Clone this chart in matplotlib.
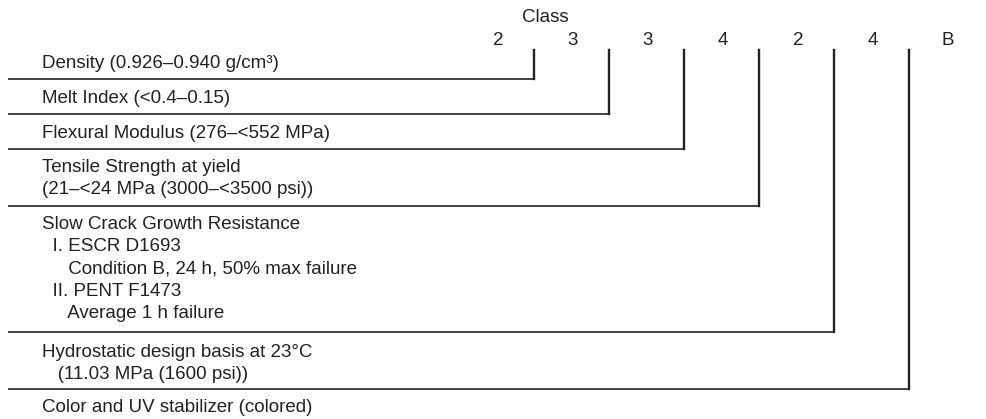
import matplotlib.pyplot as plt

plt.rcParams['font.family'] = ['Liberation Sans', 'DejaVu Sans']

# cell classification code, one character per property
codes = ['2', '3', '3', '4', '2', '4', 'B']

# property descriptions, one list of text lines per property
props = [
    ['Density (0.926–0.940 g/cm³)'],
    ['Melt Index (<0.4–0.15)'],
    ['Flexural Modulus (276–<552 MPa)'],
    ['Tensile Strength at yield', '(21–<24 MPa (3000–<3500 psi))'],
    ['Slow Crack Growth Resistance', '  I. ESCR D1693',
     '     Condition B, 24 h, 50% max failure', '  II. PENT F1473',
     '     Average 1 h failure'],
    ['Hydrostatic design basis at 23°C', '   (11.03 MPa (1600 psi))'],
    ['Color and UV stabilizer (colored)'],
]

# layout in pixels
W, H = 987, 419
row_bottom = [79, 114, 149, 206, 332, 389]
first_baseline = [68, 103, 138, 172, 229, 357, 412]
line_step = 22.2
col_x0, col_step = 498, 75
ink = '#222222'
fs = 13.5

fig = plt.figure(figsize=(W / 100, H / 100), dpi=100)
ax = fig.add_axes([0, 0, 1, 1])
ax.set_xlim(0, W)
ax.set_ylim(H, 0)
ax.axis('off')

ax.text(col_x0 + col_step * 0.63, 22, 'Class', ha='center', va='baseline',
        fontsize=fs, color=ink)
for i, c in enumerate(codes):
    ax.text(col_x0 + col_step * i, 45, c, ha='center', va='baseline',
            fontsize=fs, color=ink)

for i, lines in enumerate(props):
    for j, s in enumerate(lines):
        ax.text(42, first_baseline[i] + j * line_step, s, ha='left',
                va='baseline', fontsize=fs, color=ink)
    if i < len(row_bottom):
        xv = col_x0 + col_step * i + 36
        ax.plot([8, xv], [row_bottom[i], row_bottom[i]], color=ink, lw=1.2,
                solid_capstyle='butt')
        ax.plot([xv, xv], [50, row_bottom[i]], color=ink, lw=1.7,
                solid_capstyle='projecting')

fig.savefig('out.png', dpi=100)
